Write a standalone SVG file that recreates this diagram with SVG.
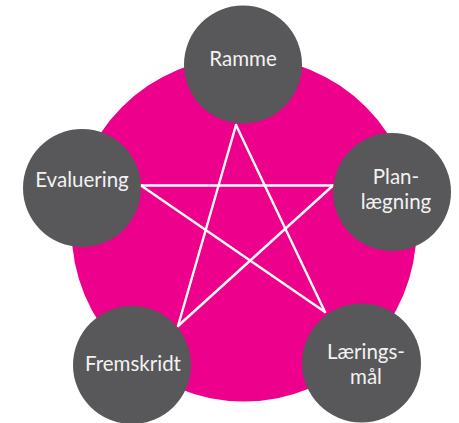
<svg xmlns="http://www.w3.org/2000/svg" width="459" height="423" viewBox="0 0 459 423">
<style>
.node circle{fill:#58585a}
.node text{fill:#f2f2f2;font-family:Lato,"Liberation Sans",sans-serif;font-size:20.5px;text-anchor:middle}
.edge{stroke:#ffffff;stroke-width:2.4;fill:none;stroke-linecap:round}
</style>
<rect width="459" height="423" fill="#ffffff"/>
<circle id="bg" cx="244" cy="229" r="172.5" fill="#ec008c"/>
<g id="connectors">
<line class="edge" x1="236" y1="125" x2="178" y2="326"/>
<line class="edge" x1="236" y1="125" x2="325" y2="312"/>
<line class="edge" x1="141" y1="185.5" x2="333" y2="185.5"/>
<line class="edge" x1="141" y1="185.5" x2="325" y2="312"/>
<line class="edge" x1="333" y1="185.5" x2="178" y2="326"/>
</g>
<g id="ramme" class="node"><circle cx="243" cy="64.5" r="59"/><text x="243" y="66">Ramme</text></g>
<g id="evaluering" class="node"><circle cx="82" cy="188" r="59"/><text x="82" y="186.5">Evaluering</text></g>
<g id="planlaegning" class="node"><circle cx="392" cy="192" r="59"/><text x="396" y="184">Plan-</text><text x="396" y="209">lægning</text></g>
<g id="laeringsmaal" class="node"><circle cx="361.5" cy="363" r="59.5"/><text x="366" y="359">Lærings-</text><text x="366" y="384">mål</text></g>
<g id="fremskridt" class="node"><circle cx="132" cy="365" r="59"/><text x="133" y="371">Fremskridt</text></g>
</svg>
